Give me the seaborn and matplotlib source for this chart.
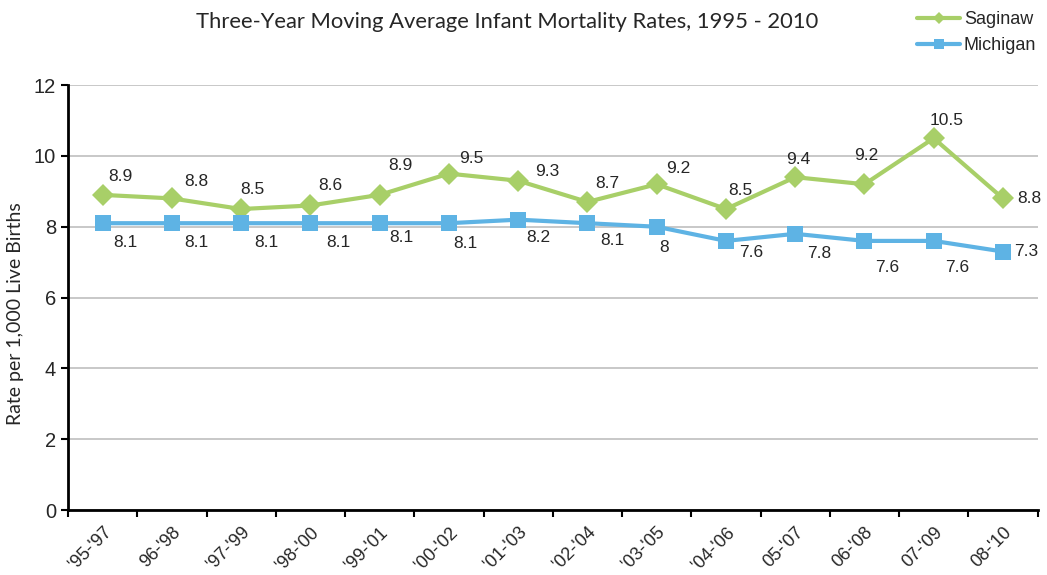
import numpy as np
import pandas as pd
import seaborn as sns
import matplotlib.pyplot as plt
from matplotlib.lines import Line2D

periods = ["'95-'97", "96-'98", "'97-'99", "'98-'00", "'99-'01", "'00-'02", "'01-'03",
           "'02-'04", "'03-'05", "'04-'06", "05-'07", "06-'08", "07-'09", "08-'10"]
saginaw = [8.9, 8.8, 8.5, 8.6, 8.9, 9.5, 9.3, 8.7, 9.2, 8.5, 9.4, 9.2, 10.5, 8.8]
michigan = [8.1, 8.1, 8.1, 8.1, 8.1, 8.1, 8.2, 8.1, 8.0, 7.6, 7.8, 7.6, 7.6, 7.3]
saginaw_labels = ["8.9", "8.8", "8.5", "8.6", "8.9", "9.5", "9.3", "8.7", "9.2", "8.5", "9.4", "9.2", "10.5", "8.8"]
michigan_labels = ["8.1", "8.1", "8.1", "8.1", "8.1", "8.1", "8.2", "8.1", "8", "7.6", "7.8", "7.6", "7.6", "7.3"]

# label offsets (pixels, x right / y up) as placed in the original chart
sag_off = [(18, 18), (24, 17), (11, 20), (20, 20), (21, 29), (22, 15), (29, 9),
           (20, 18), (22, 16), (14, 19), (3, 18), (2, 29), (13, 18), (26, 0)]
mi_off = [(23, -19), (24, -19), (25, -19), (28, -19), (22, -14), (16, -20), (20, -18),
          (25, -17), (7, -21), (25, -12), (24, -20), (23, -27), (23, -27), (23, 0)]

green = "#A8CF68"
blue = "#5EB3E4"

df = pd.DataFrame({
    "pos": list(range(len(periods))) * 2,
    "rate": saginaw + michigan,
    "area": ["Saginaw"] * len(periods) + ["Michigan"] * len(periods),
})

sns.set_style("white")
plt.rcParams["font.family"] = ["Liberation Sans", "DejaVu Sans"]

fig = plt.figure(figsize=(10.47, 5.75), dpi=100)
ax = fig.add_axes([0.065, 0.113, 0.926, 0.739])

sns.lineplot(data=df, x="pos", y="rate", hue="area", style="area",
             palette={"Saginaw": green, "Michigan": blue},
             markers={"Saginaw": "D", "Michigan": "s"}, dashes=False,
             linewidth=3, markersize=11, markeredgewidth=0, ax=ax, legend=False)

px = 0.72  # points per pixel at 100 dpi
for i, v in enumerate(saginaw):
    dx, dy = sag_off[i]
    ax.annotate(saginaw_labels[i], (i, v), xytext=(dx * px, dy * px), textcoords="offset points",
                ha="center", va="center", fontsize=12.5)
for i, v in enumerate(michigan):
    dx, dy = mi_off[i]
    ax.annotate(michigan_labels[i], (i, v), xytext=(dx * px, dy * px), textcoords="offset points",
                ha="center", va="center", fontsize=12.5)

ax.set_xlim(-0.5, len(periods) - 0.5)
ax.set_ylim(0, 12)
ax.set_yticks(range(0, 13, 2))
ax.set_xticks(range(len(periods)))
ax.set_xticklabels(periods, rotation=45, ha="right", rotation_mode="anchor", fontsize=13)
ax.set_xticks(np.arange(-0.5, len(periods), 1), minor=True)
ax.tick_params(axis="x", which="major", length=0, pad=10)
ax.tick_params(axis="x", which="minor", length=5, width=1.5, color="black", direction="out", bottom=True)
ax.tick_params(axis="y", length=5, width=1.5, color="black", direction="out", left=True, labelsize=14.5)
ax.yaxis.grid(True, color="#BFBFBF", linewidth=1.2)
ax.set_axisbelow(True)
for s in ["top", "right"]:
    ax.spines[s].set_visible(False)
for s in ["left", "bottom"]:
    ax.spines[s].set_color("black")
    ax.spines[s].set_linewidth(2)

ax.set_xlabel("")
ax.set_ylabel("Rate per 1,000 Live Births", fontsize=14, family=["Lato", "DejaVu Sans"])
ax.yaxis.set_label_coords(-0.045, 0.463)

fig.text(0.484, 0.962, "Three-Year Moving Average Infant Mortality Rates, 1995 - 2010",
         ha="center", va="center", fontsize=15.8, family=["Lato", "DejaVu Sans"])

handles = [Line2D([], [], color=green, marker="D", linewidth=3, markersize=6, markeredgewidth=0),
           Line2D([], [], color=blue, marker="s", linewidth=3, markersize=7, markeredgewidth=0)]
fig.legend(handles, ["Saginaw", "Michigan"], loc="upper right", bbox_to_anchor=(1.0, 1.0),
           frameon=False, fontsize=13, handlelength=2.4, handletextpad=0.2, labelspacing=0.5,
           borderaxespad=0.2)

fig.savefig("out.png", dpi=100)
